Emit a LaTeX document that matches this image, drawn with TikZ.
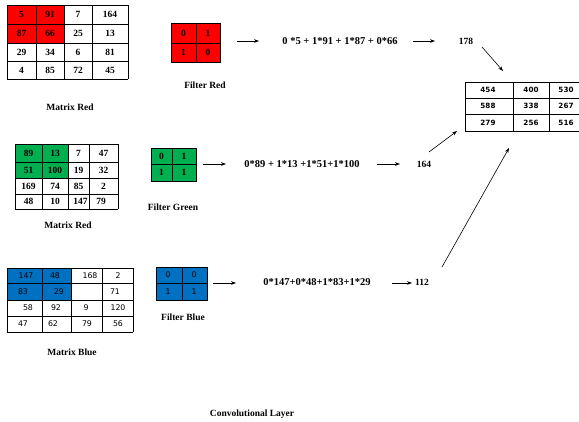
\documentclass[tikz,border=0pt]{standalone}
\usepackage{fontspec}
\setmainfont{Liberation Serif}
\newfontfamily\cellsans{DejaVu Sans}
\usetikzlibrary{arrows.meta}
\definecolor{redc}{RGB}{255,0,0}
\definecolor{greenc}{RGB}{0,176,80}
\definecolor{bluec}{RGB}{0,112,192}
\tikzset{
  gridline/.style={draw=black, line width=0.7pt},
  num/.style={font=\fontsize{9.5}{10}\selectfont\bfseries, inner sep=0pt},
  snum/.style={font=\cellsans\fontsize{7.8}{8}\selectfont, inner sep=0pt},
  onum/.style={font=\cellsans\fontsize{7.2}{8}\selectfont\bfseries, inner sep=0pt},
  lbl/.style={font=\fontsize{9.5}{10}\selectfont\bfseries, inner sep=0pt},
  form/.style={font=\fontsize{10.5}{12}\selectfont\bfseries, inner sep=0pt},
  arr/.style={draw=black, line width=0.6pt, -{Stealth[length=5pt,width=3.6pt]}}
}
\begin{document}
\begin{tikzpicture}[x=1pt,y=-1pt]
\clip (0,0) rectangle (579,421);
\fill[white] (0,0) rectangle (579,421);

% ---------- Matrix Red ----------
\fill[redc] (7,5) rectangle (64,43);
\foreach \x in {7,36,64,92,128} \draw[gridline] (\x,5) -- (\x,79);
\foreach \y in {5,24,43,61,79} \draw[gridline] (7,\y) -- (128,\y);
\node[num] (r00) at (21.5,14.5) {5};
\node[num] (r01) at (50,14.5) {91};
\node[num] (r02) at (78,14.5) {7};
\node[num] (r03) at (110,14.5) {164};
\node[num] (r10) at (21.5,33.5) {87};
\node[num] (r11) at (50,33.5) {66};
\node[num] (r12) at (78,33.5) {25};
\node[num] (r13) at (110,33.5) {13};
\node[num] (r20) at (21.5,52) {29};
\node[num] (r21) at (50,52) {34};
\node[num] (r22) at (78,52) {6};
\node[num] (r23) at (110,52) {81};
\node[num] (r30) at (21.5,70) {4};
\node[num] (r31) at (50,70) {85};
\node[num] (r32) at (78,70) {72};
\node[num] (r33) at (110,70) {45};
\node[lbl] (mred) at (70,107) {Matrix Red};

% ---------- Filter Red ----------
\fill[redc] (171,23) rectangle (220,62);
\draw[gridline] (171,23) rectangle (220,62);
\draw[gridline] (196,23) -- (196,62);
\draw[gridline] (171,43) -- (220,43);
\node[num] (fr00) at (183.5,33) {0};
\node[num] (fr01) at (208,33) {1};
\node[num] (fr10) at (183.5,52.5) {1};
\node[num] (fr11) at (208,52.5) {0};
\node[lbl] (fred) at (205,85) {Filter Red};

\coordinate (a1s) at (237,41);
\coordinate (a1e) at (259,41);
\draw[arr] (a1s) -- (a1e);
\node[form] (f1) at (340,41) {0 *5 + 1*91 + 1*87 + 0*66};
\coordinate (b1s) at (413,41);
\coordinate (b1e) at (435,41);
\draw[arr] (b1s) -- (b1e);
\node[num] (res1) at (466,41) {178};
\coordinate (c1s) at (482,47);
\coordinate (c1e) at (503,71);
\draw[arr] (c1s) -- (c1e);

% ---------- Matrix Green ----------
\fill[greenc] (15,144) rectangle (68,178);
\foreach \x in {15,42,68,89,118} \draw[gridline] (\x,144) -- (\x,209);
\foreach \y in {144,162,178,194,209} \draw[gridline] (15,\y) -- (118,\y);
\node[num] (g00) at (28.5,153) {89};
\node[num] (g01) at (55,153) {13};
\node[num] (g02) at (78.5,153) {7};
\node[num] (g03) at (103.5,153) {47};
\node[num] (g10) at (28.5,170) {51};
\node[num] (g11) at (55,170) {100};
\node[num] (g12) at (78.5,170) {19};
\node[num] (g13) at (103.5,170) {32};
\node[num] (g20) at (28.5,186) {169};
\node[num] (g21) at (55,186) {74};
\node[num] (g22) at (78.5,186) {85};
\node[num] (g23) at (103.5,186) {2};
\node[num] (g30) at (28.5,201.5) {48};
\node[num] (g31) at (55,201.5) {10};
\node[num] (g32) at (80.5,201.5) {147};
\node[num] (g33) at (101,201.5) {79};
\node[lbl] (mgreen) at (68,225) {Matrix Red};

% ---------- Filter Green ----------
\fill[greenc] (151,148) rectangle (196,181);
\draw[gridline] (151,148) rectangle (196,181);
\draw[gridline] (172,148) -- (172,181);
\draw[gridline] (151,164) -- (196,164);
\node[num] (fg00) at (161.5,156) {0};
\node[num] (fg01) at (184,156) {1};
\node[num] (fg10) at (161.5,172.5) {1};
\node[num] (fg11) at (184,172.5) {1};
\node[lbl] (fgreen) at (173,207) {Filter Green};

\coordinate (a2s) at (203,164);
\coordinate (a2e) at (226,164);
\draw[arr] (a2s) -- (a2e);
\node[form] (f2) at (302,164) {0*89 + 1*13 +1*51+1*100};
\coordinate (b2s) at (377,164);
\coordinate (b2e) at (400,164);
\draw[arr] (b2s) -- (b2e);
\node[num] (res2) at (424,164) {164};
\coordinate (c2s) at (429,152);
\coordinate (c2e) at (457,131);
\draw[arr] (c2s) -- (c2e);

% ---------- Matrix Blue ----------
\fill[bluec] (7,268) rectangle (71,300);
\foreach \x in {7,42,71,102,133} \draw[gridline] (\x,268) -- (\x,332);
\foreach \y in {268,283,300,316,332} \draw[gridline] (7,\y) -- (133,\y);
\node[snum] (b00) at (26,276) {147};
\node[snum] (b01) at (55,276) {48};
\node[snum] (b02) at (90,276) {168};
\node[snum] (b03) at (118,276) {2};
\node[snum] (b10) at (23,292) {83};
\node[snum] (b11) at (59,292) {29};
\node[snum] (b13) at (115,292) {71};
\node[snum] (b20) at (28,308) {58};
\node[snum] (b21) at (56,308) {92};
\node[snum] (b22) at (86,308) {9};
\node[snum] (b23) at (118,308) {120};
\node[snum] (b30) at (23,324) {47};
\node[snum] (b31) at (53,324) {62};
\node[snum] (b32) at (87,324) {79};
\node[snum] (b33) at (118,324) {56};
\node[lbl] (mblue) at (72,352) {Matrix Blue};

% ---------- Filter Blue ----------
\fill[bluec] (156,267) rectangle (207,300);
\draw[gridline] (156,267) rectangle (207,300);
\draw[gridline] (182,267) -- (182,300);
\draw[gridline] (156,283) -- (207,283);
\node[snum] (fb00) at (168,274.5) {0};
\node[snum] (fb01) at (194,274.5) {0};
\node[snum] (fb10) at (168,291.5) {1};
\node[snum] (fb11) at (194,291.5) {1};
\node[lbl] (fblue) at (183,317) {Filter Blue};

\coordinate (a3s) at (213,283);
\coordinate (a3e) at (236,283);
\draw[arr] (a3s) -- (a3e);
\node[form] (f3) at (317,282) {0*147+0*48+1*83+1*29};
\coordinate (b3s) at (392,283);
\coordinate (b3e) at (412,283);
\draw[arr] (b3s) -- (b3e);
\node[num] (res3) at (422,282) {112};
\coordinate (c3s) at (442,267);
\coordinate (c3e) at (509,148);
\draw[arr] (c3s) -- (c3e);

% ---------- Output matrix ----------
\foreach \x in {465,513,549} \draw[gridline] (\x,82) -- (\x,131);
\foreach \y in {82,98,114,131} \draw[gridline] (465,\y) -- (582,\y);
\node[onum] (o00) at (488,90) {454};
\node[onum] (o01) at (531,90) {400};
\node[onum] (o02) at (566,90) {530};
\node[onum] (o10) at (488,106) {588};
\node[onum] (o11) at (531,106) {338};
\node[onum] (o12) at (566,106) {267};
\node[onum] (o20) at (488,122.5) {279};
\node[onum] (o21) at (531,122.5) {256};
\node[onum] (o22) at (566,122.5) {516};

\node[lbl] (title) at (252,414) {Convolutional Layer};
\end{tikzpicture}
\end{document}
